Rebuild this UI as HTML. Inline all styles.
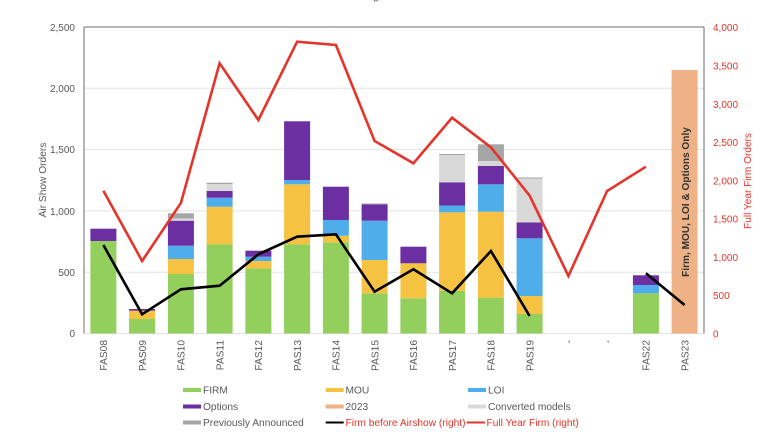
<!DOCTYPE html>
<html><head><meta charset="utf-8"><style>
html,body{margin:0;padding:0;background:#fff;}
svg{display:block;}
text{font-family:"Liberation Sans",Arial,sans-serif;}
</style></head><body>
<svg width="780" height="432" viewBox="0 0 780 432" xmlns="http://www.w3.org/2000/svg">
<rect width="780" height="432" fill="#ffffff"/>
<text x="373" y="-1" font-size="11" fill="#595959">g</text>
<!-- gridlines -->
<g stroke="#e3e3e3" stroke-width="1">
<line x1="84" y1="88.3" x2="704" y2="88.3"/>
<line x1="84" y1="149.6" x2="704" y2="149.6"/>
<line x1="84" y1="210.9" x2="704" y2="210.9"/>
<line x1="84" y1="272.2" x2="704" y2="272.2"/>
<line x1="84" y1="333.5" x2="704" y2="333.5"/>
</g>
<!-- bars -->
<g>
<!-- FAS08 -->
<rect x="90.4" y="241" width="26" height="92.5" fill="#92cf5c"/>
<rect x="90.4" y="228.7" width="26" height="12.3" fill="#6b2fa2"/>
<!-- PAS09 -->
<rect x="129.1" y="319" width="26" height="14.5" fill="#92cf5c"/>
<rect x="129.1" y="310.7" width="26" height="8.3" fill="#f5c242"/>
<rect x="129.1" y="309" width="26" height="1.7" fill="#6b2fa2"/>
<!-- FAS10 -->
<rect x="167.9" y="274" width="26" height="59.5" fill="#92cf5c"/>
<rect x="167.9" y="259" width="26" height="15" fill="#f5c242"/>
<rect x="167.9" y="245.7" width="26" height="13.3" fill="#4fade9"/>
<rect x="167.9" y="220.7" width="26" height="25" fill="#6b2fa2"/>
<rect x="167.9" y="218.5" width="26" height="2.2" fill="#d9d9d9"/>
<rect x="167.9" y="213.3" width="26" height="5.2" fill="#a6a6a6"/>
<!-- PAS11 -->
<rect x="206.6" y="244.3" width="26" height="89.2" fill="#92cf5c"/>
<rect x="206.6" y="206.7" width="26" height="37.6" fill="#f5c242"/>
<rect x="206.6" y="197.7" width="26" height="9" fill="#4fade9"/>
<rect x="206.6" y="191" width="26" height="6.7" fill="#6b2fa2"/>
<rect x="206.6" y="184" width="26" height="7" fill="#d9d9d9"/>
<rect x="206.6" y="182.7" width="26" height="1.3" fill="#a6a6a6"/>
<!-- FAS12 -->
<rect x="245.4" y="268.3" width="26" height="65.2" fill="#92cf5c"/>
<rect x="245.4" y="261" width="26" height="7.3" fill="#f5c242"/>
<rect x="245.4" y="256.7" width="26" height="4.3" fill="#4fade9"/>
<rect x="245.4" y="250.7" width="26" height="6" fill="#6b2fa2"/>
<!-- PAS13 -->
<rect x="284.1" y="244.3" width="26" height="89.2" fill="#92cf5c"/>
<rect x="284.1" y="184.3" width="26" height="60" fill="#f5c242"/>
<rect x="284.1" y="180" width="26" height="4.3" fill="#4fade9"/>
<rect x="284.1" y="121.3" width="26" height="58.7" fill="#6b2fa2"/>
<!-- FAS14 -->
<rect x="322.9" y="242.3" width="26" height="91.2" fill="#92cf5c"/>
<rect x="322.9" y="235.7" width="26" height="6.6" fill="#f5c242"/>
<rect x="322.9" y="220" width="26" height="15.7" fill="#4fade9"/>
<rect x="322.9" y="186.7" width="26" height="33.3" fill="#6b2fa2"/>
<!-- PAS15 -->
<rect x="361.6" y="293.3" width="26" height="40.2" fill="#92cf5c"/>
<rect x="361.6" y="260" width="26" height="33.3" fill="#f5c242"/>
<rect x="361.6" y="220.7" width="26" height="39.3" fill="#4fade9"/>
<rect x="361.6" y="204.3" width="26" height="16.4" fill="#6b2fa2"/>
<rect x="361.6" y="203.5" width="26" height="0.8" fill="#a6a6a6"/>
<!-- FAS16 -->
<rect x="400.4" y="298.3" width="26" height="35.2" fill="#92cf5c"/>
<rect x="400.4" y="263.3" width="26" height="35" fill="#f5c242"/>
<rect x="400.4" y="246.7" width="26" height="16.6" fill="#6b2fa2"/>
<!-- PAS17 -->
<rect x="439.1" y="290.7" width="26" height="42.8" fill="#92cf5c"/>
<rect x="439.1" y="212.3" width="26" height="78.4" fill="#f5c242"/>
<rect x="439.1" y="205.5" width="26" height="6.8" fill="#4fade9"/>
<rect x="439.1" y="182.3" width="26" height="23.2" fill="#6b2fa2"/>
<rect x="439.1" y="155" width="26" height="27.3" fill="#d9d9d9"/>
<rect x="439.1" y="154" width="26" height="1" fill="#a6a6a6"/>
<!-- FAS18 -->
<rect x="477.9" y="297.7" width="26" height="35.8" fill="#92cf5c"/>
<rect x="477.9" y="211.7" width="26" height="86" fill="#f5c242"/>
<rect x="477.9" y="184.3" width="26" height="27.4" fill="#4fade9"/>
<rect x="477.9" y="166" width="26" height="18.3" fill="#6b2fa2"/>
<rect x="477.9" y="161" width="26" height="5" fill="#d9d9d9"/>
<rect x="477.9" y="144.3" width="26" height="16.7" fill="#a6a6a6"/>
<!-- PAS19 -->
<rect x="516.6" y="314" width="26" height="19.5" fill="#92cf5c"/>
<rect x="516.6" y="296" width="26" height="18" fill="#f5c242"/>
<rect x="516.6" y="238.3" width="26" height="57.7" fill="#4fade9"/>
<rect x="516.6" y="222.5" width="26" height="15.8" fill="#6b2fa2"/>
<rect x="516.6" y="178.5" width="26" height="44" fill="#d9d9d9"/>
<rect x="516.6" y="177.5" width="26" height="1" fill="#a6a6a6"/>
<!-- FAS22 -->
<rect x="632.9" y="293.3" width="26" height="40.2" fill="#92cf5c"/>
<rect x="632.9" y="285" width="26" height="8.3" fill="#4fade9"/>
<rect x="632.9" y="275.3" width="26" height="9.7" fill="#6b2fa2"/>
<!-- PAS23 -->
<rect x="671.6" y="70" width="26" height="263.5" fill="#eeb286"/>
</g>
<text transform="translate(689,202) rotate(-90)" text-anchor="middle" font-size="10.1" font-weight="bold" fill="#333333">Firm, MOU, LOI &amp; Options Only</text>
<!-- axes frame -->
<g stroke="#6e6e6e" stroke-width="1">
<line x1="84" y1="27" x2="704" y2="27"/>
<line x1="84" y1="27" x2="84" y2="333.5"/>
<line x1="704" y1="27" x2="704" y2="333.5"/>
</g>
<!-- red line -->
<polyline fill="none" stroke="#e5342a" stroke-width="2.6" stroke-linejoin="miter"
points="103.4,190.7 142.1,261 180.9,203 219.6,63.3 258.4,120 297.1,41.7 335.9,45 374.6,141 413.4,163.3 452.1,117.7 490.9,147.3 529.6,195.6 568.4,276 607.1,191 645.9,166.7"/>
<!-- black line -->
<polyline fill="none" stroke="#000000" stroke-width="2.6"
points="103.4,245 142.1,314.3 180.9,289.3 219.6,285.7 258.4,254.3 297.1,236.7 335.9,234.3 374.6,291.7 413.4,269.3 452.1,293.3 490.9,251 529.6,316"/>
<polyline fill="none" stroke="#000000" stroke-width="2.6" points="645.9,273.3 684.6,305"/>
<!-- left tick labels -->
<g font-size="10" fill="#595959" text-anchor="end">
<text x="75" y="31">2,500</text>
<text x="75" y="92">2,000</text>
<text x="75" y="153">1,500</text>
<text x="75" y="215">1,000</text>
<text x="75" y="276">500</text>
<text x="75" y="337">0</text>
</g>
<text transform="translate(46,180) rotate(-90)" text-anchor="middle" font-size="10.2" fill="#595959">Air Show Orders</text>
<!-- right tick labels -->
<g font-size="10" fill="#e5342a">
<text x="713" y="31">4,000</text>
<text x="713" y="69.5">3,500</text>
<text x="713" y="108">3,000</text>
<text x="713" y="146">2,500</text>
<text x="713" y="184.5">2,000</text>
<text x="713" y="222.5">1,500</text>
<text x="713" y="261">1,000</text>
<text x="713" y="299">500</text>
<text x="713" y="337.5">0</text>
</g>
<text transform="translate(751,181) rotate(-90)" text-anchor="middle" font-size="10.1" fill="#e5342a">Full Year Firm Orders</text>
<!-- x labels -->
<g font-size="10.2" fill="#595959" text-anchor="end">
<text transform="translate(107.2,340) rotate(-90)">FAS08</text>
<text transform="translate(146,340) rotate(-90)">PAS09</text>
<text transform="translate(184.7,340) rotate(-90)">FAS10</text>
<text transform="translate(223.5,340) rotate(-90)">PAS11</text>
<text transform="translate(262.2,340) rotate(-90)">FAS12</text>
<text transform="translate(301,340) rotate(-90)">PAS13</text>
<text transform="translate(339.7,340) rotate(-90)">FAS14</text>
<text transform="translate(378.5,340) rotate(-90)">PAS15</text>
<text transform="translate(417.2,340) rotate(-90)">FAS16</text>
<text transform="translate(456,340) rotate(-90)">PAS17</text>
<text transform="translate(494.7,340) rotate(-90)">FAS18</text>
<text transform="translate(533.5,340) rotate(-90)">PAS19</text>
<text transform="translate(572.2,340) rotate(-90)">-</text>
<text transform="translate(611,340) rotate(-90)">-</text>
<text transform="translate(649.7,340) rotate(-90)">FAS22</text>
<text transform="translate(688.5,340) rotate(-90)">PAS23</text>
</g>
<!-- legend -->
<g font-size="10.2" fill="#595959">
<rect x="183" y="388" width="18" height="4" fill="#92cf5c"/><text x="203" y="393.5">FIRM</text>
<rect x="325.7" y="388" width="18" height="4" fill="#f5c242"/><text x="345.5" y="393.5">MOU</text>
<rect x="468" y="388" width="18" height="4" fill="#4fade9"/><text x="488" y="393.5">LOI</text>
<rect x="183" y="404.5" width="18" height="4" fill="#6b2fa2"/><text x="203" y="410">Options</text>
<rect x="325.7" y="404.5" width="18" height="4" fill="#eeb286"/><text x="345.5" y="410">2023</text>
<rect x="468" y="404.5" width="18" height="4" fill="#d9d9d9"/><text x="488" y="410">Converted models</text>
<rect x="183" y="420.5" width="18" height="4" fill="#a6a6a6"/><text x="203" y="426">Previously Announced</text>
<line x1="325.7" y1="422.5" x2="343.7" y2="422.5" stroke="#000" stroke-width="2"/>
<text x="345.5" y="426" fill="#e5342a">Firm before Airshow (right)</text>
<line x1="466.7" y1="422.5" x2="485" y2="422.5" stroke="#e5342a" stroke-width="2"/>
<text x="486.5" y="426" fill="#e5342a">Full Year Firm (right)</text>
</g>
</svg>
</body></html>
